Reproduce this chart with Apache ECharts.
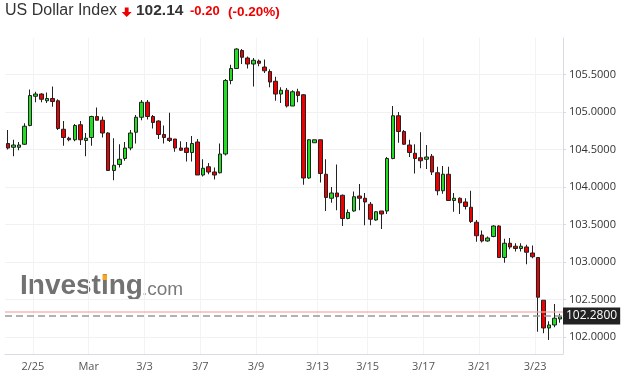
<!DOCTYPE html>
<html>
<head>
<meta charset="utf-8">
<title>US Dollar Index</title>
<script src="https://cdn.jsdelivr.net/npm/echarts@6/dist/echarts.min.js"></script>
<style>
  html, body { margin: 0; padding: 0; background: #fff; }
  #chart { width: 626px; height: 378px; }
</style>
</head>
<body>
<div id="chart"></div>
<script>
// candles: [open, close, low, high]
var candles = [
  [104.58, 104.52, 104.50, 104.76], [104.53, 104.56, 104.41, 104.63], [104.53, 104.56, 104.49, 104.60],
  [104.57, 104.81, 104.56, 104.85], [104.82, 105.22, 104.81, 105.30], [105.21, 105.24, 105.13, 105.27],
  [105.24, 105.17, 105.13, 105.25], [105.15, 105.18, 105.12, 105.26], [105.18, 105.14, 105.07, 105.34],
  [105.15, 104.78, 104.76, 105.17], [104.77, 104.66, 104.55, 104.88], [104.65, 104.63, 104.61, 104.67],
  [104.63, 104.82, 104.61, 104.84], [104.83, 104.63, 104.56, 104.88], [104.62, 104.65, 104.41, 104.72],
  [104.66, 104.94, 104.55, 104.95], [104.94, 104.89, 104.89, 105.06], [104.89, 104.72, 104.66, 104.94],
  [104.72, 104.22, 104.22, 104.73], [104.22, 104.29, 104.09, 104.65], [104.30, 104.37, 104.26, 104.57],
  [104.38, 104.52, 104.35, 104.60], [104.52, 104.72, 104.49, 104.76], [104.73, 104.93, 104.58, 104.96],
  [104.93, 105.13, 104.89, 105.16], [105.13, 104.94, 104.90, 105.16], [104.94, 104.86, 104.78, 104.96],
  [104.88, 104.70, 104.64, 104.89], [104.70, 104.66, 104.58, 104.82], [104.65, 104.62, 104.60, 104.99],
  [104.64, 104.52, 104.47, 104.64], [104.52, 104.49, 104.48, 104.61], [104.52, 104.46, 104.34, 104.60],
  [104.46, 104.58, 104.34, 104.68], [104.60, 104.16, 104.16, 104.64], [104.16, 104.25, 104.14, 104.37],
  [104.27, 104.20, 104.17, 104.32], [104.20, 104.16, 104.10, 104.26], [104.19, 104.44, 104.18, 104.58],
  [104.44, 105.42, 104.42, 105.44], [105.42, 105.58, 105.37, 105.63], [105.58, 105.84, 105.58, 105.85],
  [105.82, 105.73, 105.64, 105.84], [105.72, 105.64, 105.58, 105.74], [105.64, 105.69, 105.34, 105.72],
  [105.68, 105.65, 105.61, 105.70], [105.60, 105.55, 105.52, 105.70], [105.54, 105.40, 105.33, 105.57],
  [105.41, 105.24, 105.15, 105.47], [105.24, 105.29, 105.12, 105.33], [105.29, 105.08, 105.06, 105.32],
  [105.08, 105.27, 105.08, 105.29], [105.27, 105.22, 105.13, 105.31], [105.23, 104.12, 104.03, 105.24],
  [104.12, 104.63, 104.11, 104.64], [104.59, 104.63, 104.59, 104.63], [104.63, 104.18, 104.06, 104.63],
  [104.17, 103.86, 103.68, 104.37], [103.85, 103.92, 103.79, 104.00], [103.92, 103.87, 103.69, 104.30],
  [103.89, 103.58, 103.48, 103.90], [103.58, 103.66, 103.57, 103.70], [103.68, 103.87, 103.67, 103.94],
  [103.88, 103.85, 103.69, 104.04], [103.85, 103.80, 103.49, 103.92], [103.77, 103.57, 103.49, 103.80],
  [103.56, 103.67, 103.55, 103.68], [103.68, 103.64, 103.44, 103.68], [103.68, 104.38, 103.64, 104.40],
  [104.38, 104.95, 104.37, 105.08], [104.95, 104.74, 104.59, 105.00], [104.74, 104.57, 104.56, 104.76],
  [104.56, 104.46, 104.40, 104.63], [104.45, 104.38, 104.18, 104.57], [104.39, 104.35, 104.25, 104.73],
  [104.37, 104.40, 104.24, 104.56], [104.41, 104.20, 104.16, 104.44], [104.19, 103.95, 103.89, 104.27],
  [103.95, 104.17, 103.91, 104.28], [104.17, 103.82, 103.82, 104.27], [103.82, 103.85, 103.67, 103.92],
  [103.85, 103.79, 103.64, 103.86], [103.80, 103.74, 103.70, 103.85], [103.73, 103.54, 103.52, 103.95],
  [103.53, 103.35, 103.27, 103.56], [103.36, 103.28, 103.26, 103.42], [103.28, 103.32, 103.27, 103.34],
  [103.34, 103.48, 103.33, 103.49], [103.48, 103.06, 103.06, 103.49], [103.06, 103.25, 102.99, 103.31],
  [103.25, 103.20, 103.17, 103.32], [103.21, 103.18, 103.14, 103.25], [103.18, 103.21, 103.14, 103.25],
  [103.20, 103.13, 102.97, 103.23], [103.12, 103.07, 103.05, 103.22], [103.06, 102.53, 102.07, 103.06],
  [102.49, 102.12, 102.05, 102.49], [102.12, 102.16, 101.96, 102.21], [102.16, 102.25, 102.13, 102.44],
  [102.24, 102.27, 102.19, 102.31]
];

// date ticks: candle index where each label sits, and its text
var tickIndex = [5, 15, 25, 35, 45, 56, 65, 75, 85, 95];
var tickLabels = ['2/25', 'Mar', '3/3', '3/7', '3/9', '3/13', '3/15', '3/17', '3/21', '3/23'];

var lastPrice = '102.14';
var change = '-0.20';
var changePct = '(-0.20%)';
var prevClose = 102.34;
var markPrice = 102.28;

var categories = candles.map(function (c, i) {
  var k = tickIndex.indexOf(i);
  return k >= 0 ? tickLabels[k] : '';
});
function isTick(i) { return tickIndex.indexOf(i) >= 0; }

// horizontal grid: no line on the top edge
var hLines = ['#f1f1f1', '#f1f1f1', '#f1f1f1', '#f1f1f1', '#f1f1f1',
              '#f1f1f1', '#f1f1f1', '#f1f1f1', '#f1f1f1', 'rgba(0,0,0,0)'];

var chart = echarts.init(document.getElementById('chart'));
var option = {
  animation: false,
  grid: { left: 5, right: 63, top: 38, bottom: 24 },
  xAxis: {
    type: 'category',
    data: categories,
    boundaryGap: true,
    axisLine: { lineStyle: { color: '#d6dbe5' } },
    axisTick: { interval: isTick, length: 4, lineStyle: { color: '#d6dbe5' } },
    splitLine: { show: true, interval: isTick, lineStyle: { color: '#f1f3f6' } },
    axisLabel: {
      interval: isTick,
      margin: 7,
      formatter: function (v) { return '{t|' + v + '}'; },
      rich: {
        t: { color: '#555', fontSize: 11, fontFamily: 'Open Sans', padding: [0, 5.6, 0, 0] }
      }
    }
  },
  yAxis: {
    type: 'value',
    position: 'right',
    scale: true,
    min: 101.773,
    max: 105.987,
    splitNumber: 8,
    axisLine: { show: true, lineStyle: { color: '#d6dbe5' } },
    axisTick: { show: true, length: 3, lineStyle: { color: '#d6dbe5' } },
    splitLine: { lineStyle: { color: hLines } },
    axisLabel: {
      margin: 6,
      color: '#333',
      fontSize: 11,
      fontFamily: 'Open Sans',
      showMinLabel: false,
      showMaxLabel: false,
      formatter: function (v) { return v.toFixed(4); }
    }
  },
  series: [{
    type: 'candlestick',
    data: candles,
    barWidth: 4,
    itemStyle: {
      color: '#22dd22',
      color0: '#ee0000',
      borderColor: '#222',
      borderColor0: '#222',
      borderWidth: 1
    },
    markLine: {
      silent: true,
      symbol: ['none', 'none'],
      data: [
        { yAxis: prevClose, lineStyle: { color: '#f3a9a9', width: 1.5, type: 'solid', opacity: 0.8 }, label: { show: false } },
        {
          yAxis: markPrice,
          lineStyle: { color: '#999', width: 1.5, type: [7, 4] },
          label: {
            show: true,
            position: 'end',
            distance: 0,
            formatter: markPrice.toFixed(4),
            color: '#fff',
            fontSize: 12,
            fontFamily: 'Open Sans',
            backgroundColor: '#222',
            padding: [3, 3, 2, 3]
          }
        }
      ]
    }
  }],
  graphic: [
    { type: 'text', left: 5, top: 3, style: { text: 'US Dollar Index', fill: '#333', fontSize: 16, fontFamily: 'Liberation Sans' } },
    {
      type: 'polygon',
      shape: { points: [[124.8, 7.5], [128.6, 7.5], [128.6, 12], [131.7, 12], [126.7, 17], [121.7, 12], [124.8, 12]] },
      style: { fill: '#ee0000' }
    },
    { type: 'text', left: 136, top: 3, style: { text: lastPrice, fill: '#333', fontSize: 15.5, fontWeight: 'bold', fontFamily: 'Liberation Sans' } },
    { type: 'text', left: 190, top: 5, style: { text: change, fill: '#ee0000', fontSize: 13, fontWeight: 'bold', fontFamily: 'Liberation Sans' } },
    { type: 'text', left: 228, top: 5, style: { text: changePct, fill: '#ee0000', fontSize: 13.5, fontWeight: 'bold', fontFamily: 'Liberation Sans' } },
    // watermark
    { type: 'text', left: 20, top: 272, z: -1, style: { text: 'Investing', fill: '#727272', fontSize: 28, fontWeight: 'bold', fontFamily: 'Liberation Sans' } },
    { type: 'rect', shape: { x: 102.5, y: 274.5, width: 4.5, height: 5.5 }, z: -1, style: { fill: '#f5a623' } },
    { type: 'text', left: 142, top: 280, z: -1, style: { text: '.com', fill: '#7a7a7a', fontSize: 19, fontFamily: 'Liberation Sans' } }
  ]
};
chart.setOption(option);
</script>
</body>
</html>
